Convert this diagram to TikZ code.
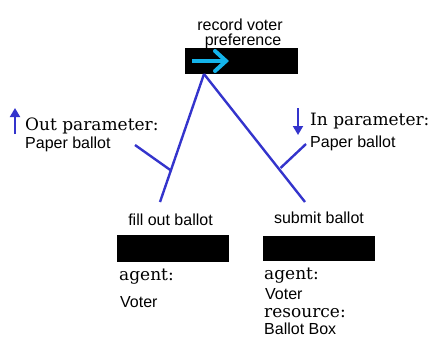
\documentclass[tikz,border=0pt]{standalone}
\usepackage{fontspec}
\newfontfamily\arialish{Liberation Sans}
\newfontfamily\georgish{DejaVu Serif}
\usetikzlibrary{arrows.meta}
\definecolor{lineblue}{RGB}{52,52,204}
\definecolor{arrcyan}{RGB}{20,180,235}
\tikzset{
  blackbox/.style={fill=black,draw=none},
  sanslabel/.style={inner sep=0pt,font=\arialish\fontsize{16}{18}\selectfont},
  seriflabel/.style={inner sep=0pt,font=\georgish\fontsize{17}{20}\selectfont},
  link/.style={draw=lineblue,line width=2.4pt},
  paramarrow/.style={draw=lineblue,line width=1.8pt,-{Triangle[length=9pt,width=10pt]}},
}
\begin{document}
\begin{tikzpicture}[x=1pt,y=-1pt]
\useasboundingbox (0,0) rectangle (433,343);
% top box
\node[sanslabel,anchor=base] (t1) at (240,30) {record voter};
\node[sanslabel,anchor=base] (t2) at (243,45) {preference};
\path[blackbox] (185,48) rectangle (298,74);
\coordinate (topbox) at (204,74);
\coordinate (arrS) at (192,61);
\coordinate (arrE) at (229,61);
\draw[draw=arrcyan,line width=4pt,-{Straight Barb[length=11pt,width=20pt,line cap=round]}] (arrS) -- (arrE);
% left activity
\node[sanslabel,anchor=base] (fill) at (170.5,225) {fill out ballot};
\path[blackbox] (117,235) rectangle (229,262);
\node[seriflabel,anchor=base west] (agL) at (119,280) {agent:};
\node[sanslabel,anchor=base west] (voL) at (120,307) {Voter};
% right activity
\node[sanslabel,anchor=base] (sub) at (319,223) {submit ballot};
\path[blackbox] (263,236) rectangle (375,261);
\node[seriflabel,anchor=base west] (agR) at (264,279) {agent:};
\node[sanslabel,anchor=base west] (voR) at (265,299) {Voter};
\node[seriflabel,anchor=base west] (resR) at (264,317) {resource:};
\node[sanslabel,anchor=base west] (bbR) at (264,334) {Ballot Box};
% connectors
\coordinate (lend) at (160,202);
\coordinate (rend) at (305,202);
\draw[link] (topbox) -- (lend);
\draw[link] (topbox) -- (rend);
\coordinate (lmid) at (170.3,170);
\coordinate (lfree) at (135,145);
\coordinate (rmid) at (280.5,168);
\coordinate (rfree) at (306,144);
\draw[link] (lfree) -- (lmid);
\draw[link] (rmid) -- (rfree);
% parameter labels
\coordinate (upS) at (15,134);
\coordinate (upE) at (15,108);
\draw[paramarrow] (upS) -- (upE);
\node[seriflabel,anchor=base west] (outp) at (25,130) {Out parameter:};
\node[sanslabel,anchor=base west] (pbL) at (25,148) {Paper ballot};
\coordinate (dnS) at (298,108);
\coordinate (dnE) at (298,135);
\draw[paramarrow] (dnS) -- (dnE);
\node[seriflabel,anchor=base west] (inp) at (310,125) {In parameter:};
\node[sanslabel,anchor=base west] (pbR) at (310,147) {Paper ballot};
\end{tikzpicture}
\end{document}
